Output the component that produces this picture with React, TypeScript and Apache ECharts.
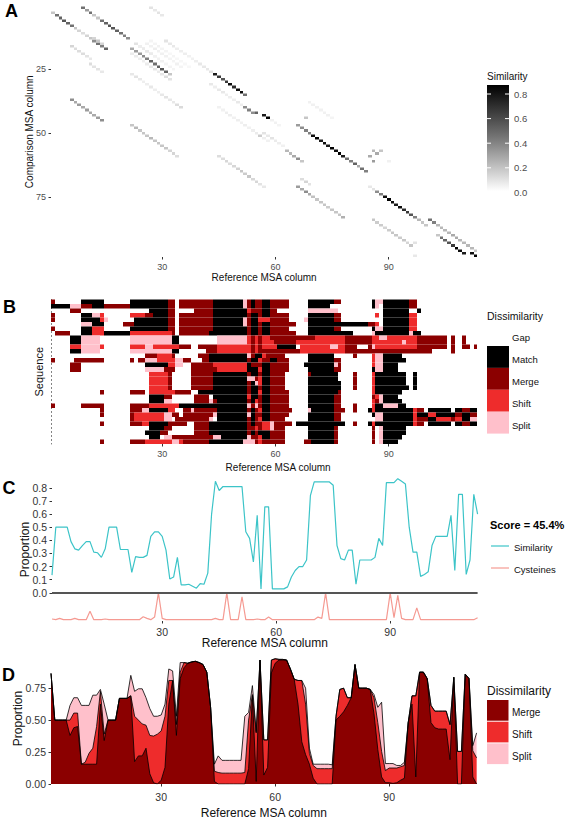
import React, { useEffect, useRef } from "react";
import * as echarts from "echarts";

const FONT = "'Liberation Sans', Arial, sans-serif";
const xTicks = [30, 60, 90];
const compTicks = [25, 50, 75];
const simLegendTicks = ["0.8", "0.6", "0.4", "0.2", "0.0"];
const cTicks = [0, 0.1, 0.2, 0.3, 0.4, 0.5, 0.6, 0.7, 0.8];
const dTicks = [0, 0.25, 0.5, 0.75];

// Panel A: diagonal runs [start column, start row, similarity per step]
const simSegments: [number, number, number[]][] = [
  [1, 3, [0.2, 0.5, 0.55, 0.6, 0.55, 0.5, 0.2, 0.15, 0.12, 0.15, 0.2, 0.4, 0.5, 0.45, 0.55]],
  [9, 1, [0.5, 0.35, 0.5, 0.2, 0.2, 0.5, 0.55, 0.6, 0.6, 0.55, 0.5, 0.45, 0.4]],
  [6, 16, [0.15, 0.12, 0.12, 0.12, 0.1, 0.08]],
  [11, 23, [0.12, 0.1, 0.1, 0.08]],
  [6, 37, [0.4, 0.3, 0.35, 0.3, 0.35, 0.3, 0.3, 0.35, 0.4]],
  [27, 1, [0.1, 0.08, 0.1, 0.08]],
  [12, 13, [0.15, 0.2, 0.15]],
  [22, 17, [0.3, 0.35, 0.35, 0.4, 0.45, 0.55, 0.5, 0.55, 0.6, 0.55, 0.2]],
  [23, 15, [0.1, 0.12, 0.1, 0.08, 0.08, 0.06]],
  [24, 16, [0.06, 0.07, 0.08, 0.07, 0.05, 0.05, 0.05, 0.04, 0.04, 0.04]],
  [26, 15, [0.05, 0.05, 0.06, 0.05, 0.05, 0.05, 0.04, 0.04, 0.05, 0.04]],
  [27, 14, [0.04, 0.04, 0.05, 0.04, 0.04, 0.03, 0.04, 0.03, 0.03, 0.03, 0.03]],
  [22, 19, [0.07, 0.07, 0.06, 0.06, 0.07, 0.08, 0.09, 0.07, 0.09, 0.12, 0.1]],
  [31, 14, [0.1, 0.08, 0.08, 0.06, 0.06, 0.06, 0.05, 0.05, 0.06, 0.08, 0.08, 0.08, 0.1]],
  [44, 27, [0.8, 0.7, 0.6, 0.7, 0.85, 0.75, 0.85, 0.85, 0.5]],
  [22, 27, [0.08, 0.1, 0.08, 0.06, 0.06, 0.08, 0.06, 0.06, 0.08, 0.1, 0.08, 0.08, 0.12, 0.13]],
  [22, 47, [0.2, 0.25, 0.2, 0.2, 0.2, 0.25, 0.2, 0.2, 0.2, 0.2, 0.15, 0.15, 0.12]],
  [43, 31, [0.08, 0.06, 0.08, 0.08, 0.06, 0.06, 0.06, 0.08, 0.06]],
  [52, 40, [0.4]],
  [53, 41, [0.45, 0.4]],
  [55, 42, [0.55]],
  [57, 43, [0.8, 0.9]],
  [59, 45, [0.05, 0.05, 0.04]],
  [45, 40, [0.05, 0.05, 0.06, 0.06, 0.05, 0.06, 0.05, 0.06, 0.05, 0.06, 0.07, 0.18, 0.06, 0.05]],
  [69, 38, [0.05, 0.05, 0.05, 0.05, 0.05, 0.05, 0.04]],
  [68, 44, [0.2]],
  [66, 47, [0.35, 0.4, 0.45, 0.45, 0.85, 0.9, 0.8, 0.85, 0.8, 0.9, 0.85, 0.9, 0.8, 0.5, 0.45, 0.55, 0.3, 0.5, 0.45]],
  [45, 59, [0.12, 0.12, 0.14, 0.12, 0.14, 0.16, 0.2, 0.18, 0.2, 0.14, 0.14, 0.1, 0.08]],
  [57, 50, [0.1, 0.08, 0.1, 0.07, 0.06, 0.05]],
  [63, 57, [0.25, 0.25, 0.3, 0.4, 0.2]],
  [66, 71, [0.35, 0.3, 0.4, 0.3, 0.22, 0.2, 0.2, 0.2, 0.18, 0.2, 0.2, 0.2, 0.28]],
  [67, 68, [0.12, 0.15, 0.1]],
  [85, 59, [0.3]],
  [86, 57, [0.25, 0.3]],
  [88, 57, [0.2]],
  [86, 61, [0.35]],
  [90, 61, [0.05]],
  [85, 71, [0.08, 0.1]],
  [87, 73, [0.4, 0.45, 0.85, 0.9, 0.85, 0.8, 0.85, 0.75, 0.7, 0.6, 0.45]],
  [98, 84, [0.25, 0.2, 0.2]],
  [101, 84, [0.5, 0.45, 0.25, 0.25, 0.25, 0.25, 0.3, 0.3, 0.25, 0.25, 0.25, 0.25, 0.2]],
  [103, 90, [0.2, 0.5, 0.55, 0.6, 0.7, 0.9, 0.85, 0.8]],
  [112, 97, [0.85, 0.95]],
  [86, 84, [0.2, 0.18, 0.18, 0.15, 0.18, 0.2, 0.2, 0.18, 0.2, 0.15, 0.2]],
  [97, 93, [0.1]],
  [97, 98, [0.08]],
];

// Panel B: one string per sequence, runs "first-lastCode" (K Match, M Merge, S Shift, P Split)
const seqRows = [
  "1M 9-14K 22-31K 32-33M 35-43M 44-51K 52P 53M 54K 55-56M 57-58K 59-63M 69-75K 76-77M 86K 87-88P 89-95K 96-97M",
  "1-5K 6-8P 9-11M 12-14K 15-21M 22-31K 32-33M 35-43M 44-51K 52P 53M 54K 55-56M 57-58K 59-63M 69-74K 86K 87P 89-95K 96-97M",
  "6-8M 27-31K 32-33M 39-43M 44-52K 53S 54-56M 57-58K 59-60M 69-76P 89-95K 98K",
  "1M 9-11K 12-13P 14S 22-25S 26-27M 28-31K 32-33M 35-43M 44-52K 53M 54-55K 56M 57-58K 59-63M 69-75K 76-77M 87S 89-95K 96-97S",
  "1M 9-13K 14S 15P 23-31K 32-33M 35-43M 44-51K 52P 53M 54-55K 56-58S 59-63M 68P 69-75K 76-77M 89-95K 96-97S",
  "9-11P 12-14K 20-22M 23-31K 32-33M 35-43M 44-51K 52P 53M 54-55K 56M 57-58K 59-65M 69-84K 85-86M 87S 89-95K 96-97S",
  "1M 9-11K 12-14S 22-31K 32-33M 35-43M 44-52K 53M 54-55K 56M 57-58K 59-63M 69-75K 76-77M 86K 87-88P 89-95K 96-97S",
  "2-5M 9-11K 12-14S 15-21K 22-32S 33M 35-42M 43-52K 53M 54-55K 56M 57-58K 59-65M 69-80K 86P 87-95K 96P 97-98K",
  "6-8K 9-13P 22-32P 33-34K 45-52P 53S 54M 55S 56M 57-58S 59-70M 71-78S 79-85M 86-87S 88-89P 90-97S 98-105M 107M 110M",
  "6-8K 9-13P 22-32P 33-34K 45-52P 53S 54M 55S 56M 57-59S 60-65M 66-78S 79-85M 86-93S 94P 95-97S 98-105M 107M 110M",
  "6-8S 9-13P 14S 22-25S 26-27P 28-34S 35-37M 40-44M 45-53S 54M 55S 56M 57-60S 61-65K 67-74S 75-76P 77-78S 79-81M 85M 86P 87-97S 98-105M 107M 110-111M 113M",
  "6-8K 9-13P 22-32P 33-34K 42-44M 45-53S 54M 55S 56-66M 67-78S 79-101M 107M",
  "26-28M 29-32S 33M 40-42M 43-52K 53P 54M 55-56K 57S 58-62M 69-75K 81M 86S 87-88P 89-93K",
  "1M 7-14M 22M 24-25M 26-28P 29-33S 34-35P 36-37M 41-42M 43-52K 53M 54-55K 56S 57-58M 59-60K 61-63M 69-75K 76-77M 86S 87-88P 89-94K",
  "6-8M 26-31K 32-33S 34-35P 38-43M 44-52S 53K 54-56M 57-58K 59-63M 68-75K 76P 77M 86S 87-88P 89-92K",
  "6-8M 26-30P 31-33M 38-44M 45-52S 53-55K 56S 57-58K 59-63M 69-75K 76-77M 86K 87-88P 89-92K",
  "27-31S 32M 38-43M 44-52K 53M 54-55K 56M 57-58K 59-62M 69M 70-76K 81M 86S 87-94K 97K",
  "27-31S 32M 38-43M 44-52K 53-54P 55M 56S 57-58K 59-62M 69-76K 81M 86S 87-94K 97K",
  "27-31S 32M 38-43M 44-52K 53M 54K 55P 56S 57-58K 59-62M 69-77K 81M 86S 87-94K 97K",
  "27-31S 32M 38-43M 44-52K 53M 54-55K 56M 57-58K 59-62M 69-77K 81M 86S 87-95K 97K",
  "14M 22-25M 27-33S 34-37M 40-52K 53M 54-55K 56S 57-58K 59-63M 69-76K 77M 86S 87-93K",
  "27-30K 31-32M 39-42M 44-52K 53S 54-55K 56M 57-58K 59-63M 69-75K 76-77M 86M 87S 88P 89-92K",
  "27-30K 31-32P 39-42M 43P 44M 45-52K 53M 54K 55S 56M 57-58K 59-63M 69-75K 76-77M 86S 87M 88P 89-93K",
  "1M 9-14M 22-26M 27-34S 35-52K 53P 54M 55P 56M 57-58K 59-63M 69-75K 76-77M 81M 86S 87-88K 89-92P 93-94K",
  "14M 22-24M 25-26P 27-31K 32-33S 36-37M 38P 39-44M 45-52K 53M 54K 55M 56S 57-58K 59-64M 69P 70-75K 76-78M 81M 85K 86S 87-96K 97S 98-99M 101-106K 108-109K 110-111M 112-113K",
  "14M 22M 23-30S 31-32P 33-34M 36-43M 44P 45-52K 53P 54K 55-56M 57-58K 59-63M 69-75K 76-77M 86K 87-88P 89-96K 97S 98-100K 101-102S 103-107K 108-109M 110-111K 112-113M",
  "22M 23-30S 31-32P 34-42M 43P 45-52K 53M 54K 55M 56S 57-58K 59-62M 69-75K 76-77M 87-88P 89-96K 97S 98-100M 101-102K 103-106S 107M 108-109S 110-111K 112-113P",
  "14M 22-24M 25-26S 27-31K 32-36M 39-42M 43-52K 53M 54K 55-56M 57-58S 59P 60-64M 66-78K 81M 85K 86S 87-96K 97S 98-99M 101-106K 108-109K 110-111M 112-113K",
  "27-30K 31-32M 39-42M 43-52K 53-54M 55S 56M 57-58S 59P 60-62M 69-75K 76M 86M 88P 89-94K",
  "26-29K 30-31M 39-42M 43-52K 53M 54K 55M 56-58K 59-62M 69-75K 76M 86M 88P 89-94K",
  "27-29K 31-32P 33-43M 44-45P 46-52K 53P 54-55M 56S 57-58K 59-62M 69-75K 76M 86M 88P 89-93K",
  "14M 22-25M 26-32S 33-34P 35S 36-42M 43-51K 52-54P 55M 56S 57-62M 68-69M 70-75K 76M 86M 88P 89-92K",
];
const stateColors: Record<string, string> = { K: "#000000", M: "#8b0000", S: "#ee2c2c", P: "#ffc0cb" };
const stateLabels = ["Match", "Merge", "Shift", "Split"];
const stateKeys = ["K", "M", "S", "P"];

// Panel C
const similarity = [
  0.135, 0.5, 0.5, 0.5, 0.5, 0.39, 0.335, 0.325, 0.36, 0.39,
  0.39, 0.31, 0.305, 0.27, 0.335, 0.5, 0.5, 0.5, 0.33, 0.33,
  0.33, 0.155, 0.275, 0.27, 0.27, 0.285, 0.43, 0.465, 0.465, 0.43,
  0.325, 0.105, 0.12, 0.27, 0.06, 0.06, 0.065, 0.05, 0.035, 0.07,
  0.065, 0.15, 0.6, 0.85, 0.78, 0.81, 0.81, 0.81, 0.81, 0.81,
  0.81, 0.465, 0.415, 0.235, 0.59, 0.03, 0.655, 0.655, 0.03, 0.03,
  0.03, 0.03, 0.045, 0.12, 0.17, 0.2, 0.2, 0.25, 0.74, 0.845,
  0.845, 0.845, 0.845, 0.845, 0.82, 0.36, 0.26, 0.25, 0.325, 0.325,
  0.065, 0.25, 0.25, 0.25, 0.25, 0.27, 0.415, 0.36, 0.84, 0.84,
  0.84, 0.87, 0.85, 0.83, 0.5, 0.31, 0.31, 0.125, 0.14, 0.16,
  0.36, 0.43, 0.43, 0.43, 0.43, 0.59, 0.17, 0.75, 0.75, 0.14,
  0.25, 0.75, 0.6,
];
const cysteines = [
  -0.2, -0.205, -0.195, -0.205, -0.205, -0.205, -0.195, -0.205, -0.205, -0.205,
  -0.14, -0.205, -0.205, -0.205, -0.2, -0.205, -0.205, -0.205, -0.205, -0.205,
  -0.205, -0.205, -0.205, -0.205, -0.183, -0.195, -0.205, -0.185, 0, -0.195,
  -0.205, -0.205, -0.205, -0.205, -0.205, -0.205, -0.205, -0.205, -0.205, -0.205,
  -0.205, -0.205, -0.205, -0.195, -0.205, -0.205, 0, -0.205, -0.205, -0.205,
  -0.03, -0.205, -0.205, -0.205, -0.2, -0.205, -0.205, -0.185, -0.205, -0.205,
  -0.205, -0.205, -0.205, -0.205, -0.205, -0.205, -0.205, -0.205, -0.205, -0.205,
  -0.185, -0.195, 0, -0.205, -0.205, -0.205, -0.205, -0.205, -0.205, -0.205,
  -0.205, -0.205, -0.205, -0.205, -0.205, -0.205, -0.205, -0.205, -0.205, 0,
  -0.19, -0.02, -0.195, -0.205, -0.205, -0.205, -0.115, -0.205, -0.205, -0.205,
  -0.205, -0.205, -0.205, -0.205, -0.205, -0.205, -0.205, -0.205, -0.205, -0.205,
  -0.205, -0.205, -0.19,
];

// Panel D: top edge of each stacked band
const splitTop = [
  0.865, 0.5, 0.5, 0.5, 0.5, 0.615, 0.675, 0.675, 0.615, 0.615,
  0.615, 0.695, 0.695, 0.74, 0.625, 0.5, 0.5, 0.5, 0.67, 0.67,
  0.67, 0.85, 0.725, 0.745, 0.745, 0.675, 0.59, 0.53, 0.53, 0.54,
  0.625, 0.9, 0.885, 0.53, 0.95, 0.95, 0.945, 0.955, 0.96, 0.95,
  0.935, 0.875, 0.6, 0.155, 0.22, 0.185, 0.185, 0.185, 0.185, 0.185,
  0.185, 0.53, 0.56, 0.77, 0.41, 0.97, 0.345, 0.345, 0.97, 0.98,
  0.975, 0.975, 0.97, 0.9, 0.82, 0.81, 0.81, 0.75, 0.28, 0.155,
  0.155, 0.155, 0.155, 0.155, 0.15, 0.53, 0.74, 0.75, 0.675, 0.675,
  0.935, 0.75, 0.75, 0.75, 0.74, 0.7, 0.6, 0.64, 0.16, 0.16,
  0.16, 0.145, 0.145, 0.17, 0.48, 0.69, 0.69, 0.875, 0.875, 0.825,
  0.615, 0.57, 0.57, 0.57, 0.57, 0.465, 0.835, 0.255, 0.255, 0.86,
  0.825, 0.3, 0.4,
];
const shiftTop = [
  0.865, 0.5, 0.5, 0.5, 0.5, 0.5, 0.555, 0.555, 0.155, 0.17,
  0.24, 0.28, 0.45, 0.725, 0.39, 0.5, 0.5, 0.5, 0.67, 0.67,
  0.67, 0.69, 0.53, 0.5, 0.47, 0.46, 0.38, 0.375, 0.39, 0.415,
  0.53, 0.81, 0.81, 0.465, 0.875, 0.95, 0.945, 0.955, 0.96, 0.95,
  0.935, 0.875, 0.6, 0.1, 0.09, 0.085, 0.085, 0.085, 0.085, 0.085,
  0.085, 0.09, 0.5, 0.7, 0.4, 0.97, 0.345, 0.345, 0.97, 0.98,
  0.975, 0.975, 0.97, 0.9, 0.82, 0.81, 0.81, 0.625, 0.24, 0.145,
  0.12, 0.12, 0.12, 0.12, 0.12, 0.53, 0.74, 0.75, 0.675, 0.675,
  0.935, 0.75, 0.75, 0.75, 0.74, 0.675, 0.48, 0.255, 0.105, 0.125,
  0.125, 0.125, 0.135, 0.145, 0.48, 0.69, 0.69, 0.875, 0.875, 0.825,
  0.615, 0.57, 0.57, 0.57, 0.57, 0.465, 0.835, 0.255, 0.255, 0.86,
  0.825, 0.26, 0.205,
];
const mergeTop = [
  0.865, 0.5, 0.5, 0.5, 0.5, 0.38, 0.44, 0.45, 0.155, 0.155,
  0.155, 0.155, 0.155, 0.625, 0.34, 0.5, 0.5, 0.5, 0.67, 0.67,
  0.67, 0.69, 0.175, 0.22, 0.22, 0.28, 0.08, 0.01, 0, 0.03,
  0.13, 0.625, 0.81, 0.38, 0.825, 0.91, 0.945, 0.955, 0.96, 0.95,
  0.935, 0.875, 0.6, 0.02, 0, 0, 0, 0, 0, 0,
  0, 0, 0.12, 0.69, 0.02, 0.97, 0.07, 0.13, 0.87, 0.945,
  0.97, 0.97, 0.97, 0.9, 0.82, 0.625, 0.33, 0.23, 0.155, 0.045,
  0, 0, 0, 0, 0, 0.5, 0.53, 0.565, 0.615, 0.675,
  0.935, 0.75, 0.75, 0.75, 0.74, 0.55, 0.27, 0.055, 0.01, 0.01,
  0.005, 0.01, 0.03, 0.045, 0.48, 0.625, 0.055, 0.875, 0.875, 0.825,
  0.48, 0.44, 0.43, 0.43, 0.43, 0.19, 0.835, 0, 0, 0.86,
  0.825, 0.055, 0,
];

const simCells: number[][] = [];
simSegments.forEach(([c, r, vals]) => vals.forEach((v, i) => simCells.push([c + i, r + i, v])));

const seqRuns: (number | string)[][] = [];
seqRows.forEach((row, idx) =>
  row.split(" ").forEach((tok) => {
    const m = tok.match(/^(\d+)(?:-(\d+))?([KMSP])$/);
    if (m) seqRuns.push([+m[1], +(m[2] || m[1]), idx + 1, stateColors[m[3]]]);
  })
);

const withCol = (vals: number[]) => vals.map((v, i) => [i + 1, v]);

const GRAY = "#4d4d4d";
const text = (x: number, y: number, t: string, fontSize: number, extra: any = {}) => ({
  type: "text",
  x,
  y,
  silent: true,
  style: {
    text: t,
    fontSize,
    fontFamily: FONT,
    fill: extra.fill || "#111",
    fontWeight: extra.fontWeight || "normal",
    verticalAlign: "middle",
    align: "left",
  },
});
const box = (x: number, y: number, w: number, h: number, fill: any) => ({
  type: "rect",
  silent: true,
  shape: { x, y, width: w, height: h },
  style: { fill },
});

function xAxisOf(gridIndex: number, min: number, max: number, o: any) {
  return {
    type: "value",
    gridIndex,
    min,
    max,
    position: "bottom",
    splitLine: { show: false },
    axisLine: { show: false, onZero: false },
    axisTick: { show: true, customValues: xTicks, length: 2.5, lineStyle: { color: "#333", width: 1 } },
    axisLabel: { customValues: xTicks, color: o.tickColor, fontSize: o.tickSize, fontFamily: FONT, margin: o.margin },
    name: "Reference MSA column",
    nameLocation: "middle",
    nameMoveOverlap: false,
    nameGap: o.nameGap,
    nameTextStyle: { fontSize: o.nameSize, fontFamily: FONT, color: "#111", padding: o.padding || 0 },
  };
}
function yAxisOf(gridIndex: number, min: number, max: number, o: any) {
  return {
    type: "value",
    gridIndex,
    min,
    max,
    inverse: !!o.inverse,
    splitLine: { show: false },
    axisLine: o.line || { show: false, onZero: false },
    axisTick: { show: !!o.ticks, customValues: o.ticks, length: 2.5, lineStyle: { color: "#333", width: 1 } },
    axisLabel: {
      show: !!o.ticks,
      customValues: o.ticks,
      color: o.tickColor,
      fontSize: o.tickSize,
      fontFamily: FONT,
      margin: 5,
      formatter: o.fmt,
    },
    name: o.name,
    nameLocation: "middle",
    nameMoveOverlap: false,
    nameGap: o.nameGap,
    nameTextStyle: { fontSize: o.nameSize, fontFamily: FONT, color: "#111" },
  };
}

function rectCell(fill: (api: any) => string, x0: (api: any) => number, x1: (api: any) => number, yv: (api: any) => number) {
  return (_p: any, api: any) => {
    const a = api.coord([x0(api) - 0.5, yv(api) - 0.5]);
    const b = api.coord([x1(api) + 0.5, yv(api) + 0.5]);
    const x = Math.round(a[0]);
    const y = Math.round(a[1] * 2) / 2;
    return {
      type: "rect",
      shape: { x, y, width: Math.round(b[0]) - x, height: Math.round(b[1] * 2) / 2 - y },
      style: { fill: fill(api) },
    };
  };
}

function buildOption() {
  const graphics: any[] = [
    text(5, 11, "A", 18, { fontWeight: "bold", fill: "#000" }),
    text(3, 307, "B", 18, { fontWeight: "bold", fill: "#000" }),
    text(2.5, 488, "C", 18, { fontWeight: "bold", fill: "#000" }),
    text(2, 675, "D", 18, { fontWeight: "bold", fill: "#000" }),
    // Similarity colour bar
    text(487, 76, "Similarity", 10),
    box(
      487,
      85,
      22,
      106,
      new echarts.graphic.LinearGradient(0, 0, 0, 1, [
        { offset: 0, color: "#000000" },
        { offset: 0.5, color: "#777777" },
        { offset: 1, color: "#ffffff" },
      ])
    ),
    // Dissimilarity (B)
    text(487, 316, "Dissimilarity", 10.5),
    text(512, 337, "Gap", 9.5),
    // Score
    text(490, 525, "Score = 45.4%", 11, { fontWeight: "bold", fill: "#000" }),
    { type: "line", silent: true, shape: { x1: 491, y1: 546, x2: 509, y2: 546 }, style: { stroke: "#3cc4c8", lineWidth: 1.2 } },
    text(514, 547, "Similarity", 9.5),
    { type: "line", silent: true, shape: { x1: 491, y1: 568, x2: 509, y2: 568 }, style: { stroke: "#f59a92", lineWidth: 1.2 } },
    text(514, 569, "Cysteines", 9.5),
    // Dissimilarity (D)
    text(487, 691, "Dissimilarity", 12),
  ];
  simLegendTicks.forEach((t, i) => {
    const y = 94 + i * 24.6;
    graphics.push(text(514, y, t, 9.5, { fill: GRAY }));
    if (i < 4) {
      graphics.push({ type: "line", silent: true, shape: { x1: 487, y1: y, x2: 491, y2: y }, style: { stroke: "#fff", lineWidth: 1 } });
      graphics.push({ type: "line", silent: true, shape: { x1: 505, y1: y, x2: 509, y2: y }, style: { stroke: "#fff", lineWidth: 1 } });
    }
  });
  stateLabels.forEach((t, i) => {
    graphics.push(box(487, 346 + i * 21.9, 22, 21.9, stateColors[stateKeys[i]]));
    graphics.push(text(512, 359 + i * 22, t, 9.5));
  });
  stateLabels.slice(1).forEach((t, i) => {
    graphics.push(box(487, 700 + i * 21.7, 21.5, 20.7, stateColors[stateKeys[i + 1]]));
    graphics.push(text(512, 712 + i * 22, t, 10));
  });

  return {
    animation: false,
    backgroundColor: "#ffffff",
    textStyle: { fontFamily: FONT },
    grid: [
      { left: 51, top: 6.5, width: 426.3, height: 250.5 },
      { left: 51, top: 299.5, width: 426.3, height: 144.5 },
      { left: 52, top: 478, width: 425.6, height: 143 },
      { left: 51, top: 653, width: 425.6, height: 138 },
    ],
    xAxis: [
      xAxisOf(0, 0.5, 113.5, { tickColor: GRAY, tickSize: 9, margin: 5, nameGap: 15, nameSize: 10 }),
      xAxisOf(1, 0.5, 113.5, { tickColor: GRAY, tickSize: 9, margin: 5, nameGap: 18, nameSize: 10, padding: [0, 0, 0, 28] }),
      xAxisOf(2, 1, 113, { tickColor: "#333", tickSize: 10.5, margin: 5, nameGap: 16, nameSize: 12 }),
      xAxisOf(3, 1, 113, { tickColor: "#333", tickSize: 10.5, margin: 7, nameGap: 23, nameSize: 12 }),
    ],
    yAxis: [
      yAxisOf(0, 0.5, 98.5, {
        inverse: true,
        ticks: compTicks,
        tickColor: GRAY,
        tickSize: 9,
        name: "Comparison MSA column",
        nameGap: 17,
        nameSize: 10,
      }),
      yAxisOf(1, 0.5, 32.5, {
        inverse: true,
        line: { show: true, onZero: false, lineStyle: { type: [1, 3], color: "#777", width: 1 } },
        name: "Sequence",
        nameGap: 7,
        nameSize: 11,
      }),
      yAxisOf(2, -0.215, 0.875, {
        ticks: cTicks,
        tickColor: "#333",
        tickSize: 10.5,
        fmt: (v: number) => v.toFixed(1),
        name: "Proportion",
        nameGap: 21,
        nameSize: 12,
      }),
      yAxisOf(3, 0, 1.025, {
        ticks: dTicks,
        tickColor: "#333",
        tickSize: 10.5,
        fmt: (v: number) => v.toFixed(2),
        name: "Proportion",
        nameGap: 27,
        nameSize: 12,
      }),
    ],
    visualMap: {
      show: false,
      seriesIndex: 0,
      dimension: 2,
      min: 0,
      max: 0.9,
      inRange: { color: ["#ffffff", "#000000"] },
    },
    series: [
      {
        name: "Similarity",
        type: "custom",
        xAxisIndex: 0,
        yAxisIndex: 0,
        data: simCells,
        encode: { x: 0, y: 1 },
        renderItem: rectCell(
          (api) => api.visual("color"),
          (api) => api.value(0),
          (api) => api.value(0),
          (api) => api.value(1)
        ),
      },
      {
        name: "Dissimilarity",
        type: "custom",
        xAxisIndex: 1,
        yAxisIndex: 1,
        data: seqRuns,
        dimensions: [
          { name: "from", type: "number" },
          { name: "to", type: "number" },
          { name: "row", type: "number" },
          { name: "color", type: "ordinal" },
        ],
        encode: { x: [0, 1], y: 2 },
        renderItem: (_p: any, api: any) => {
          const row = seqRuns[_p.dataIndex];
          return rectCell(
            () => row[3] as string,
            () => row[0] as number,
            () => row[1] as number,
            () => row[2] as number
          )(_p, api);
        },
      },
      {
        name: "Similarity",
        type: "line",
        xAxisIndex: 2,
        yAxisIndex: 2,
        data: withCol(similarity),
        showSymbol: false,
        lineStyle: { color: "#3cc4c8", width: 1.2 },
        markLine: {
          silent: true,
          symbol: "none",
          label: { show: false },
          lineStyle: { color: "#555", width: 2, type: "solid" },
          data: [{ yAxis: 0 }],
        },
      },
      {
        name: "Cysteines",
        type: "line",
        xAxisIndex: 2,
        yAxisIndex: 2,
        data: withCol(cysteines),
        showSymbol: false,
        lineStyle: { color: "#f59a92", width: 1.2 },
      },
      ...[
        ["Split", splitTop, stateColors.P],
        ["Shift", shiftTop, stateColors.S],
        ["Merge", mergeTop, stateColors.M],
      ].map(([name, vals, color]) => ({
        name,
        type: "line",
        xAxisIndex: 3,
        yAxisIndex: 3,
        data: withCol(vals as number[]),
        showSymbol: false,
        areaStyle: { color, opacity: 1, origin: "start" },
        lineStyle: { color: "#000", width: 0.8 },
      })),
    ],
    graphic: graphics,
  };
}

export default function App() {
  const ref = useRef<HTMLDivElement>(null);
  useEffect(() => {
    const chart = echarts.init(ref.current!, undefined, { renderer: "svg" });
    chart.setOption(buildOption() as any);
    return () => chart.dispose();
  }, []);
  return <div ref={ref} style={{ position: "absolute", left: 0, top: 0, width: 567, height: 820 }} />;
}
